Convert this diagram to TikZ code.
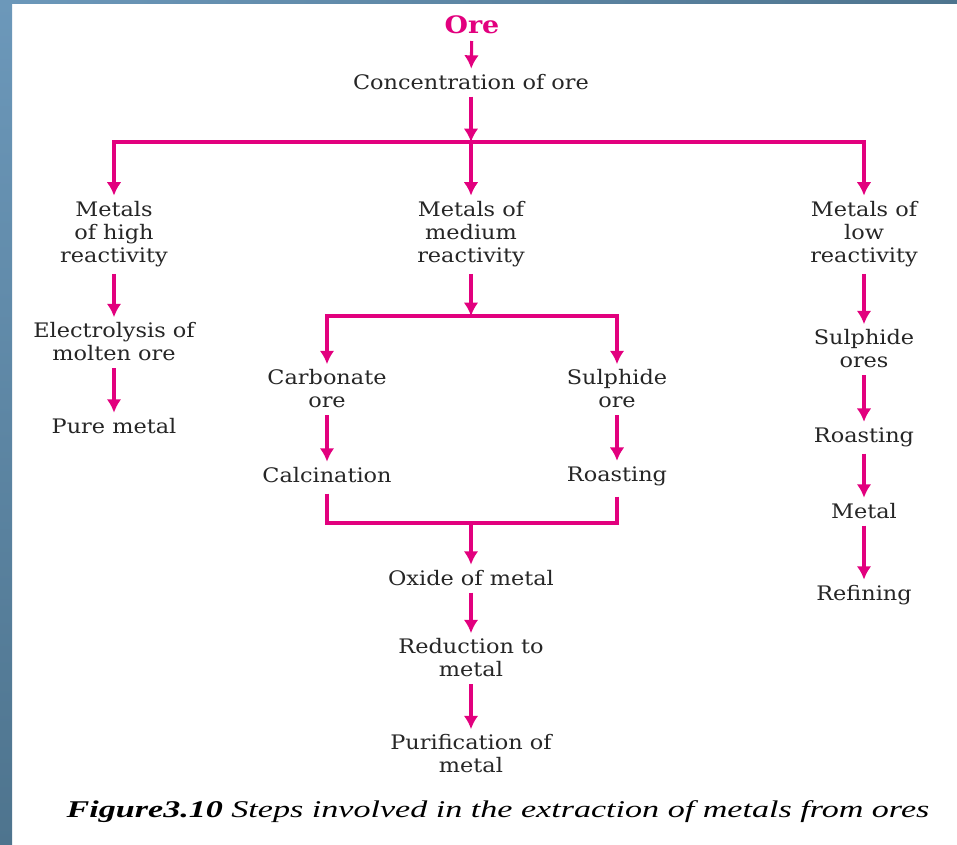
\documentclass[tikz,border=0pt]{standalone}
\usepackage{fontspec}
\setmainfont{DejaVu Serif}[FakeStretch=1.12]
\newfontfamily\capfont{Liberation Serif}[FakeStretch=1.42]
\usepackage{xcolor}
\usetikzlibrary{arrows.meta}
\definecolor{oremag}{RGB}{226,0,126}
\definecolor{edgelight}{RGB}{108,152,186}
\definecolor{edgedark}{RGB}{78,116,142}

\begin{document}
\begin{tikzpicture}[x=0.75pt,y=-0.75pt,
      step text/.style={align=center,inner sep=0pt,text=black!85,
        font=\fontsize{15}{17.25}\selectfont},
      flow/.style={draw=oremag,line width=2.3pt,shorten <=5pt,shorten >=4pt,
        -{Latex[length=10pt,width=11pt]}},
      mergeline/.style={draw=oremag,line width=2.3pt}]
      \useasboundingbox (0,0) rectangle (957,845);
      \fill[white] (0,0) rectangle (957,845);
      \shade[top color=edgelight,bottom color=edgedark] (0,0) rectangle (12,845);
      \shade[left color=edgelight,right color=edgedark] (0,0) rectangle (957,4);

      \node[text=oremag,font=\fontsize{18}{20}\selectfont\bfseries,inner sep=0pt] (ore) at (472,25) {Ore};
      \node[step text] (conc) at (471,82) {Concentration of ore};
      \coordinate (top) at (471,142);

      \node[step text] (high) at (114,234) {Metals\\of high\\reactivity};
      \node[step text] (medium) at (471,234) {Metals of\\medium\\reactivity};
      \node[step text] (low) at (864,234) {Metals of\\low\\reactivity};

      \node[step text] (electro) at (114,342) {Electrolysis of\\molten ore};
      \node[step text] (pure) at (114,426) {Pure metal};

      \coordinate (mid) at (471,316);
      \node[step text] (carb) at (327,389) {Carbonate\\ore};
      \node[step text] (sulph) at (617,389) {Sulphide\\ore};
      \node[step text] (calc) at (327,475) {Calcination};
      \node[step text] (roast) at (617,476) {Roasting};
      \coordinate (merge) at (471,523);
      \node[step text] (oxide) at (471,578) {Oxide of metal};
      \node[step text] (reduce) at (471,658) {Reduction to\\metal};
      \node[step text] (purify) at (471,754) {Purification of\\metal};

      \node[step text] (sulphores) at (864,349) {Sulphide\\ores};
      \node[step text] (roastlow) at (864,437) {Roasting};
      \node[step text] (metal) at (864,511) {Metal};
      \node[step text] (refine) at (864,595) {Refining};

      \draw[flow] (ore) -- (conc);
      \draw[flow,shorten >=0pt] (conc) -- (top);
      \draw[flow,shorten <=0pt] (top) -| (high);
      \draw[flow,shorten <=0pt] (top) -- (medium);
      \draw[flow,shorten <=0pt] (top) -| (low);

      \draw[flow] (high) -- (electro);
      \draw[flow] (electro) -- (pure);

      \draw[flow,shorten >=0pt] (medium) -- (mid);
      \draw[flow,shorten <=0pt] (mid) -| (carb);
      \draw[flow,shorten <=0pt] (mid) -| (sulph);
      \draw[flow] (carb) -- (calc);
      \draw[flow] (sulph) -- (roast);
      \draw[mergeline,shorten <=8pt] (calc) |- (merge);
      \draw[mergeline,shorten <=8pt] (roast) |- (merge);
      \draw[flow,shorten <=0pt] (merge) -- (oxide);
      \draw[flow] (oxide) -- (reduce);
      \draw[flow] (reduce) -- (purify);

      \draw[flow] (low) -- (sulphores);
      \draw[flow] (sulphores) -- (roastlow);
      \draw[flow] (roastlow) -- (metal);
      \draw[flow] (metal) -- (refine);

      \node[inner sep=0pt,font=\capfont\itshape\fontsize{18}{21}\selectfont] (caption) at (498,812)
        {\textbf{Figure3.10} Steps involved in the extraction of metals from ores};
\end{tikzpicture}
\end{document}
